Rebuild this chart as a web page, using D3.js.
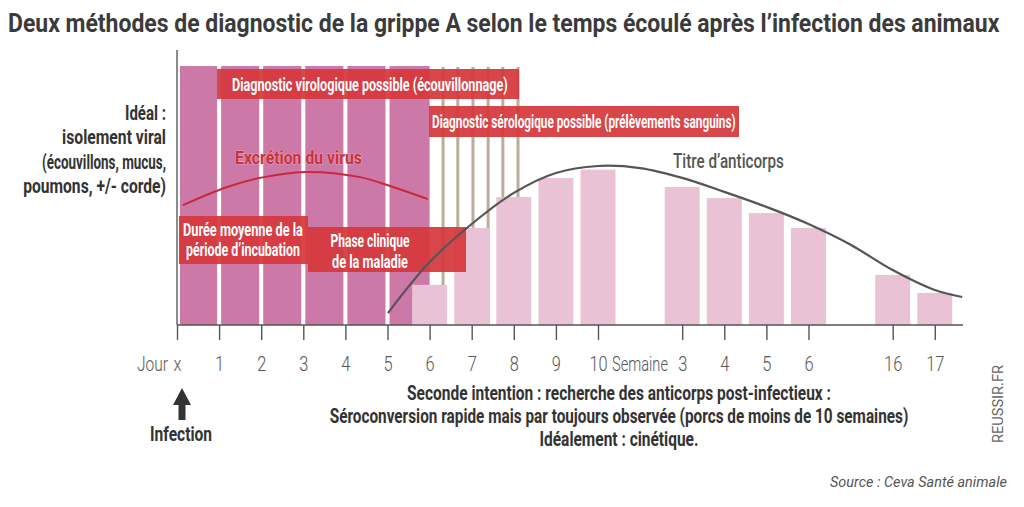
<!DOCTYPE html>
<html><head><meta charset="utf-8">
<script src="https://cdn.jsdelivr.net/npm/d3@7"></script>
<style>
html,body{margin:0;padding:0;background:#fff;}
svg{display:block;}
</style></head>
<body>
<svg id="c" width="1024" height="507"></svg>
<script>
// ---------- DATA ----------
const tickLabels = ["x","1","2","3","4","5","6","7","8","9","10","3","4","5","6","16","17"];
const tickIndex  = [0,1,2,3,4,5,6,7,8,9,10,12,13,14,15,17,18];
// incubation / clinical phase columns (days x..5), full height
const darkDays   = [0,1,2,3,4,5];
const darkValue  = 100;
// antibody bars (position index, height %)
const barIndex   = [6,7,8,9,10,12,13,14,15,17,18];
const barValues  = [15.5,37.5,49.4,56.8,60,53.3,49,43.2,37.5,19.3,12.4];
// antibody titre curve
const titreX = [5.01,6.0,7.0,8.0,9.0,10.0,11.0,12.0,13.0,14.0,15.0,16.0,17.0,18.0,18.65];
const titreY = [4.6,24.3,39.0,51.0,58.7,61.4,60.6,56.8,51.4,45.6,39.0,31.0,21.2,13.5,10.8];
// virus excretion arc
const excrX = [0.14,1.19,1.97,3.04,4.35,5.13,5.96];
const excrY = [46.3,53.3,56.8,59.1,57.1,53.3,48.6];
// serology stripes
const stripeX = [6.32,6.67,7.03,7.39,7.74,8.1];

const title = "Deux méthodes de diagnostic de la grippe A selon le temps écoulé après l’infection des animaux";
const leftLines = ["Idéal :","isolement viral","(écouvillons, mucus,","poumons, +/- corde)"];
const leftWidths = [41,104,124,143];
const bottomLines = ["Seconde intention : recherche des anticorps post-infectieux :",
  "Séroconversion rapide mais par toujours observée (porcs de moins de 10 semaines)",
  "Idéalement : cinétique."];
const bottomWidths = [424,579,159];

// ---------- LAYOUT ----------
const svg = d3.select("#c");
const F = "Roboto,'Liberation Sans',sans-serif";
const x = d3.scaleLinear().domain([0,18.67]).range([177,963]);
const y = d3.scaleLinear().domain([0,100]).range([325,66]);
const C = {dark:"#cd79a8", light:"#e9c3d5", red:"#d6383b", tan:"#b9ae98", axis:"#555"};

function fit(t,w){
  const L = t.node().getComputedTextLength();
  const px = +t.attr("x")||0;
  t.attr("transform",`translate(${px},0) scale(${w/L},1) translate(${-px},0)`);
  return t;
}
function txt(g,s,px,py,opt){
  const t = g.append("text").attr("x",px).attr("y",py).text(s)
    .attr("font-family",opt.family||F).attr("font-size",opt.size||16)
    .attr("font-weight",opt.weight||"bold").attr("fill",opt.fill||"#333")
    .attr("text-anchor",opt.anchor||"start");
  if(opt.style) t.attr("font-style",opt.style);
  if(opt.len) fit(t,opt.len);
  return t;
}

// title
txt(svg,title,8,32,{size:26,fill:"#3b3b3b",len:992});

// dark columns
svg.append("g").selectAll("rect").data(darkDays).join("rect")
  .attr("x",d=>x(d)+(d===0?3:2))
  .attr("width",d=>x(d+1)-x(d)-(d===0?5:4)+(d===5?2:0))
  .attr("y",y(darkValue)).attr("height",y(0)-y(darkValue))
  .attr("fill",C.dark);

// tan stripes
svg.append("g").selectAll("rect").data(stripeX).join("rect")
  .attr("x",d=>x(d)-1.5).attr("width",3)
  .attr("y",y(100)+1).attr("height",y(0)-y(100)-1)
  .attr("fill",C.tan);

// light bars
const bw = x(0.83)-x(0);
svg.append("g").selectAll("rect").data(barIndex).join("rect")
  .attr("x",d=>x(d)-bw/2).attr("width",bw)
  .attr("y",(d,i)=>y(barValues[i])).attr("height",(d,i)=>y(0)-y(barValues[i]))
  .attr("fill",C.light);

// excretion arc
svg.append("path").datum(excrX.map((v,i)=>[v,excrY[i]]))
  .attr("d",d3.line().x(d=>x(d[0])).y(d=>y(d[1])).curve(d3.curveCatmullRom))
  .attr("fill","none").attr("stroke","#c8283a").attr("stroke-width",2);

// red boxes
const boxes = [
  {x0:217,x1:519,y0:69,y1:99, lines:["Diagnostic virologique possible (écouvillonnage)"], tx:232, base:[91], len:[276], anchor:"start"},
  {x0:429,x1:739,y0:106,y1:137, lines:["Diagnostic sérologique possible (prélèvements sanguins)"], tx:432, base:[128], len:[304], anchor:"start"},
  {x0:179,x1:308,y0:216,y1:264, lines:["Durée moyenne de la","période d’incubation"], tx:243, base:[236,256], len:[120,114], anchor:"middle"},
  {x0:308,x1:466,y0:227,y1:272, lines:["Phase clinique","de la maladie"], tx:370, base:[247,268], len:[79,76], anchor:"middle"}
];
const bg = svg.append("g");
boxes.forEach(b=>{
  bg.append("rect").attr("x",b.x0).attr("y",b.y0).attr("width",b.x1-b.x0).attr("height",b.y1-b.y0)
    .attr("fill",C.red).attr("fill-opacity",0.93);
});

// titre curve
svg.append("path").datum(titreX.map((v,i)=>[v,titreY[i]]))
  .attr("d",d3.line().x(d=>x(d[0])).y(d=>y(d[1])).curve(d3.curveCatmullRom))
  .attr("fill","none").attr("stroke","#555").attr("stroke-width",2.2);

boxes.forEach(b=>{
  b.lines.forEach((l,i)=>txt(bg.append("g"),l,b.tx,b.base[i],{size:18,fill:"#fff",len:b.len[i],anchor:b.anchor}));
});

// labels in plot
txt(svg,"Excrétion du virus",235,164,{size:19,fill:"#c8323c",len:127})
  .attr("stroke","#f3d0dc").attr("stroke-width",0.6).attr("paint-order","stroke");
txt(svg,"Titre d’anticorps",673,168,{size:20,weight:500,fill:"#555",len:111});

// left text
leftLines.forEach((l,i)=>txt(svg,l,166,120+i*24.3,{size:19.5,fill:"#333",anchor:"end",len:leftWidths[i]}));

// axes
svg.append("line").attr("x1",177).attr("x2",177).attr("y1",50).attr("y2",325)
  .attr("stroke","#666").attr("stroke-width",1.5);
const axis = d3.axisBottom(x).tickValues(tickIndex).tickSize(15).tickFormat((d,i)=>tickLabels[i]);
const ag = svg.append("g").attr("transform","translate(0,325)").call(axis);
ag.select(".domain").attr("d",`M${x(0)},0H963`).attr("stroke",C.axis).attr("stroke-width",1.6);
ag.selectAll(".tick line").attr("stroke",C.axis).attr("stroke-width",1.4);
ag.selectAll(".tick text").attr("x",0).attr("y",46).attr("dy",0).attr("font-family",F)
  .attr("font-size",21).attr("fill","#555").attr("font-weight",300)
  .each(function(){ const t=d3.select(this); fit(t,this.getComputedTextLength()*0.78); });
txt(svg,"Jour",137,371,{size:21,weight:300,fill:"#555",len:31});
txt(svg,"Semaine",612,371,{size:21,weight:300,fill:"#555",len:56});

// bottom text
bottomLines.forEach((l,i)=>txt(svg,l,619,400+i*23,{size:19.5,fill:"#333",anchor:"middle",len:bottomWidths[i]}));

// infection arrow
svg.append("path").attr("d","M182,388 L191,405 L185.5,405 L185.5,420 L178.5,420 L178.5,405 L173,405 Z").attr("fill","#333");
txt(svg,"Infection",181,441,{size:19.5,fill:"#333",anchor:"middle",len:62});

// source & credit
txt(svg,"Source : Ceva Santé animale",1007,487,{size:15,weight:"normal",style:"italic",fill:"#555",anchor:"end",len:177});
const rg = svg.append("g").attr("transform","translate(1003,404) rotate(-90)");
txt(rg,"REUSSIR.FR",0,0,{size:15,weight:"normal",fill:"#666",anchor:"middle",len:78});
</script>
</body></html>
